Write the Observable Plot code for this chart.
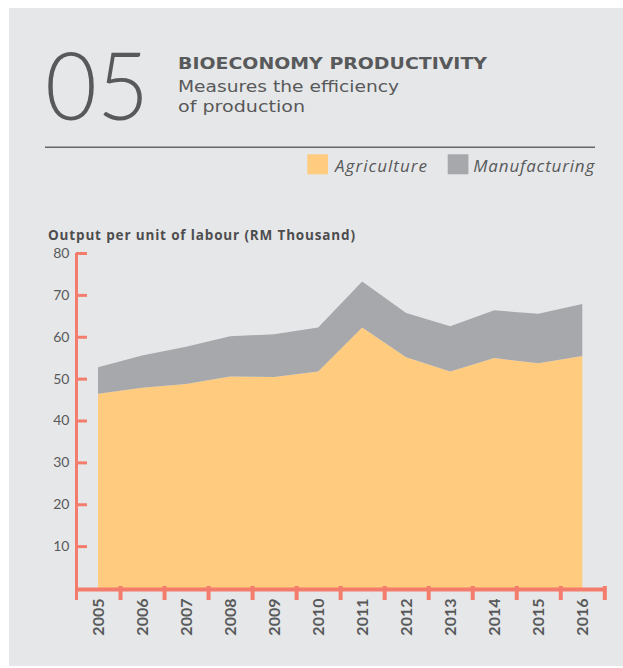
<!DOCTYPE html>
<html>
<head>
<meta charset="utf-8">
<script src="https://cdn.jsdelivr.net/npm/d3@7"></script>
<script src="https://cdn.jsdelivr.net/npm/@observablehq/plot@0.6"></script>
<style>
  html, body { margin: 0; padding: 0; background: #ffffff; }
  #page { position: relative; width: 623px; height: 668px; overflow: hidden; font-family: Lato, "Open Sans", sans-serif; }
  #panel { position: absolute; left: 9px; top: 8px; width: 614px; height: 658px; background: #E6E7E8; }
  #header { position: absolute; left: 0; top: 0; }
  #chart { position: absolute; left: 0; top: 200px; }
</style>
</head>
<body>
<div id="page">
  <div id="panel"></div>
  <svg id="header" width="623" height="250" xmlns="http://www.w3.org/2000/svg" font-family="'Open Sans', Lato, sans-serif">
    <text x="45" y="119.5" font-size="94" font-weight="300" fill="#58595B" textLength="104" lengthAdjust="spacingAndGlyphs" style="font-family: 'Lato Light', Lato, sans-serif">05</text>
    <text x="178" y="69.3" font-size="16.3" font-weight="700" fill="#58595B" textLength="309" lengthAdjust="spacingAndGlyphs" style="font-family: 'DejaVu Sans', sans-serif">BIOECONOMY PRODUCTIVITY</text>
    <text x="178" y="91.7" font-size="16.3" font-weight="400" fill="#58595B" textLength="221" lengthAdjust="spacingAndGlyphs" style="font-family: 'DejaVu Sans', sans-serif">Measures the efficiency</text>
    <text x="178" y="111.7" font-size="16.3" font-weight="400" fill="#58595B" textLength="127" lengthAdjust="spacingAndGlyphs" style="font-family: 'DejaVu Sans', sans-serif">of production</text>
    <line x1="45" x2="595" y1="147.3" y2="147.3" stroke="#666769" stroke-width="1.5"></line>
    <rect x="307.3" y="154.3" width="20.7" height="20" fill="#FECB7F"></rect>
    <text x="335" y="172.3" font-size="17" font-style="italic" fill="#58595B" textLength="92" lengthAdjust="spacing">Agriculture</text>
    <rect x="447.7" y="154.3" width="20.7" height="20" fill="#A7A8AB"></rect>
    <text x="473.3" y="172.3" font-size="17" font-style="italic" fill="#58595B" textLength="121" lengthAdjust="spacing">Manufacturing</text>
    <text x="48" y="240" font-size="13.5" font-weight="700" fill="#4D4D4F" textLength="307" lengthAdjust="spacing">Output per unit of labour (RM Thousand)</text>
  </svg>
  <div id="chart"></div>
</div>
<script>
// ---- data ----
const years = [2005, 2006, 2007, 2008, 2009, 2010, 2011, 2012, 2013, 2014, 2015, 2016];
const agriculture = [46.4, 47.8, 48.7, 50.5, 50.4, 51.7, 62.2, 55.1, 51.7, 54.9, 53.7, 55.4];
const manufacturing = [6.3, 7.7, 8.9, 9.6, 10.2, 10.5, 11.0, 10.6, 10.8, 11.4, 11.8, 12.4];
const seriesNames = ["Agriculture", "Manufacturing"];
const seriesColors = ["#FECB7F", "#A7A8AB"];
const yTicks = [10, 20, 30, 40, 50, 60, 70, 80];

const axisColor = "#F47C6D";
const textColor = "#58595B";

const rows = years.flatMap((year, i) => [
  {year, series: seriesNames[0], value: agriculture[i]},
  {year, series: seriesNames[1], value: manufacturing[i]}
]);
const xMin = years[0] - 0.5;
const xMax = years[years.length - 1] + 0.5;
const boundaries = years.map(y => y + 0.5);

const chart = Plot.plot({
  width: 623,
  height: 460,
  marginTop: 53,
  marginBottom: 72,
  marginLeft: 76,
  marginRight: 18.7,
  x: {domain: [xMin, xMax], axis: null},
  y: {domain: [0, 80], axis: null},
  color: {domain: seriesNames, range: seriesColors},
  style: {background: "transparent", overflow: "visible", fontFamily: "Lato, 'Open Sans', sans-serif"},
  marks: [
    Plot.areaY(rows, {x: "year", y: "value", z: "series", fill: "series"}),
    Plot.ruleY([0], {stroke: axisColor, strokeWidth: 4, dy: 1, insetRight: -2}),
    Plot.ruleX(boundaries, {y1: 0, y2: 0, insetTop: -2, insetBottom: -12, stroke: axisColor, strokeWidth: 4}),
    Plot.ruleX([xMin], {y1: 80, y2: 0, insetBottom: -12, stroke: axisColor, strokeWidth: 3}),
    Plot.ruleY(yTicks, {x1: xMin, x2: xMin, insetRight: -11, stroke: axisColor, strokeWidth: 3}),
    Plot.axisY({ticks: yTicks, tickSize: 0, tickPadding: 7, fontSize: 14, color: textColor, label: null}),
    Plot.axisX({ticks: years, tickSize: 0, tickPadding: 10, tickRotate: -90, tickFormat: d => String(d),
                fontSize: 16, fontWeight: 700, color: textColor, label: null})
  ]
});
document.getElementById("chart").appendChild(chart);
</script>
</body>
</html>
